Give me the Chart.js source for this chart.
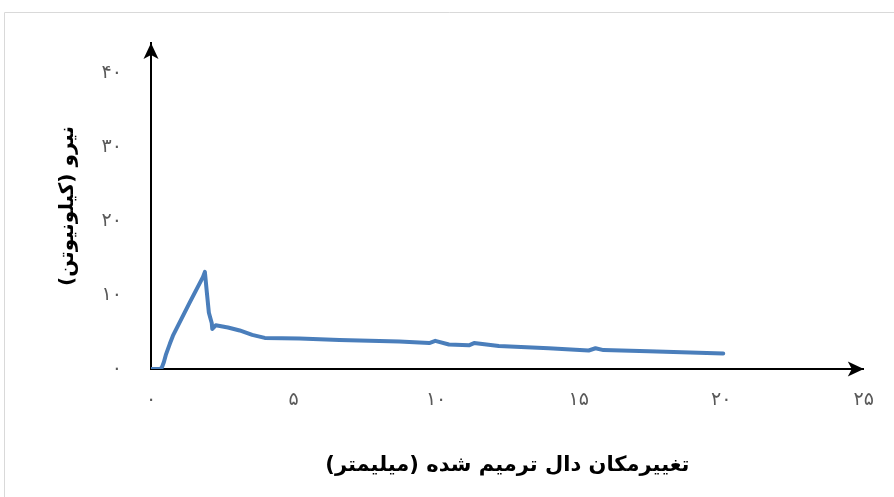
<!DOCTYPE html>
<html lang="fa">
<head>
<meta charset="utf-8">
<title>نیرو - تغییرمکان</title>
<script src="https://cdn.jsdelivr.net/npm/chart.js@4.4.1/dist/chart.umd.min.js"></script>
<style>
  html, body { margin: 0; padding: 0; background: #fff; }
  #wrap { width: 894px; height: 497px; }
</style>
</head>
<body>
<div id="wrap"><canvas id="c" width="894" height="497"></canvas></div>
<script>
// Load–displacement record of the repaired slab
const displacement = [0, 0.31, 0.38, 0.45, 0.52, 0.66, 0.77, 1.36, 1.82, 1.89, 1.96, 2.03, 2.13, 2.15, 2.27,
  2.7, 3.11, 3.55, 3.99, 5.21, 6.61, 8.71, 9.76, 9.97, 10.45, 11.15, 11.33, 12.2, 13.95, 15.35, 15.59,
  15.87, 17.45, 19.2, 20.07];
const force = [0, 0, 0.2, 0.9, 1.9, 3.4, 4.5, 9.0, 12.4, 13.1, 10.3, 7.6, 6.2, 5.4, 5.9,
  5.6, 5.2, 4.6, 4.2, 4.1, 3.9, 3.7, 3.5, 3.8, 3.3, 3.2, 3.5, 3.1, 2.8, 2.5, 2.8,
  2.55, 2.4, 2.2, 2.1];

const xTickValues = [0, 5, 10, 15, 20, 25];
const xTickLabels = ['۰', '۵', '۱۰', '۱۵', '۲۰', '۲۵'];
const yTickValues = [0, 10, 20, 30, 40];
const yTickLabels = ['۰', '۱۰', '۲۰', '۳۰', '۴۰'];

const xTitle = 'تغییرمکان دال ترمیم شده (میلیمتر)';
const yTitle = 'نیرو (کیلونیوتن)';

const points = displacement.map((d, i) => ({ x: d, y: force[i] }));

// Thin frame around the figure
const framePlugin = {
  id: 'frame',
  beforeDraw(chart) {
    const ctx = chart.ctx;
    ctx.save();
    ctx.strokeStyle = '#d9d9d9';
    ctx.lineWidth = 1;
    ctx.beginPath();
    ctx.moveTo(4.5, chart.height);
    ctx.lineTo(4.5, 12.5);
    ctx.lineTo(chart.width, 12.5);
    ctx.stroke();
    ctx.restore();
  }
};

// Arrowheads at the ends of both axes
const arrowPlugin = {
  id: 'axisArrows',
  afterDraw(chart) {
    const { ctx, chartArea: a } = chart;
    const len = 16, half = 7.5, notch = 4;
    ctx.save();
    ctx.fillStyle = '#000';
    // vertical axis
    ctx.beginPath();
    ctx.moveTo(a.left, a.top);
    ctx.lineTo(a.left + half, a.top + len);
    ctx.lineTo(a.left, a.top + len - notch);
    ctx.lineTo(a.left - half, a.top + len);
    ctx.closePath();
    ctx.fill();
    // horizontal axis
    ctx.beginPath();
    ctx.moveTo(a.right, a.bottom);
    ctx.lineTo(a.right - len, a.bottom - half);
    ctx.lineTo(a.right - len + notch, a.bottom);
    ctx.lineTo(a.right - len, a.bottom + half);
    ctx.closePath();
    ctx.fill();
    ctx.restore();
  }
};

new Chart(document.getElementById('c'), {
  type: 'line',
  data: {
    datasets: [{
      data: points,
      borderColor: '#4a7ebb',
      borderWidth: 4,
      borderCapStyle: 'round',
      borderJoinStyle: 'round',
      pointRadius: 0,
      tension: 0,
      fill: false
    }]
  },
  options: {
    responsive: false,
    animation: false,
    layout: { padding: { left: 0, top: 43, right: 29, bottom: 0 } },
    plugins: {
      legend: { display: false },
      tooltip: { enabled: false }
    },
    scales: {
      x: {
        type: 'linear',
        min: 0,
        max: 25,
        grid: { display: false, drawTicks: false },
        border: { display: true, color: '#000', width: 2 },
        afterBuildTicks(scale) { scale.ticks = xTickValues.map(v => ({ value: v })); },
        afterFit(scale) { scale.height = 128; },
        ticks: {
          padding: 20,
          color: '#595959',
          font: { family: 'DejaVu Sans', size: 19 },
          maxRotation: 0,
          callback(value) {
            const i = xTickValues.indexOf(value);
            return i >= 0 ? xTickLabels[i] : '';
          }
        },
        title: {
          display: true,
          text: xTitle,
          color: '#000',
          font: { family: 'DejaVu Sans', size: 21, weight: 'bold' },
          padding: { top: 0, bottom: 19 }
        }
      },
      y: {
        type: 'linear',
        min: 0,
        max: 44,
        grid: { display: false, drawTicks: false },
        border: { display: true, color: '#000', width: 2 },
        afterBuildTicks(scale) { scale.ticks = yTickValues.map(v => ({ value: v })); },
        afterFit(scale) { scale.width = 151; },
        ticks: {
          padding: 29,
          color: '#595959',
          font: { family: 'DejaVu Sans', size: 19 },
          callback(value) {
            const i = yTickValues.indexOf(value);
            return i >= 0 ? yTickLabels[i] : '';
          }
        },
        title: {
          display: true,
          text: yTitle,
          color: '#000',
          font: { family: 'DejaVu Sans', size: 20, weight: 'bold' },
          padding: { top: 56, bottom: 0 }
        }
      }
    }
  },
  plugins: [framePlugin, arrowPlugin]
});
</script>
</body>
</html>
